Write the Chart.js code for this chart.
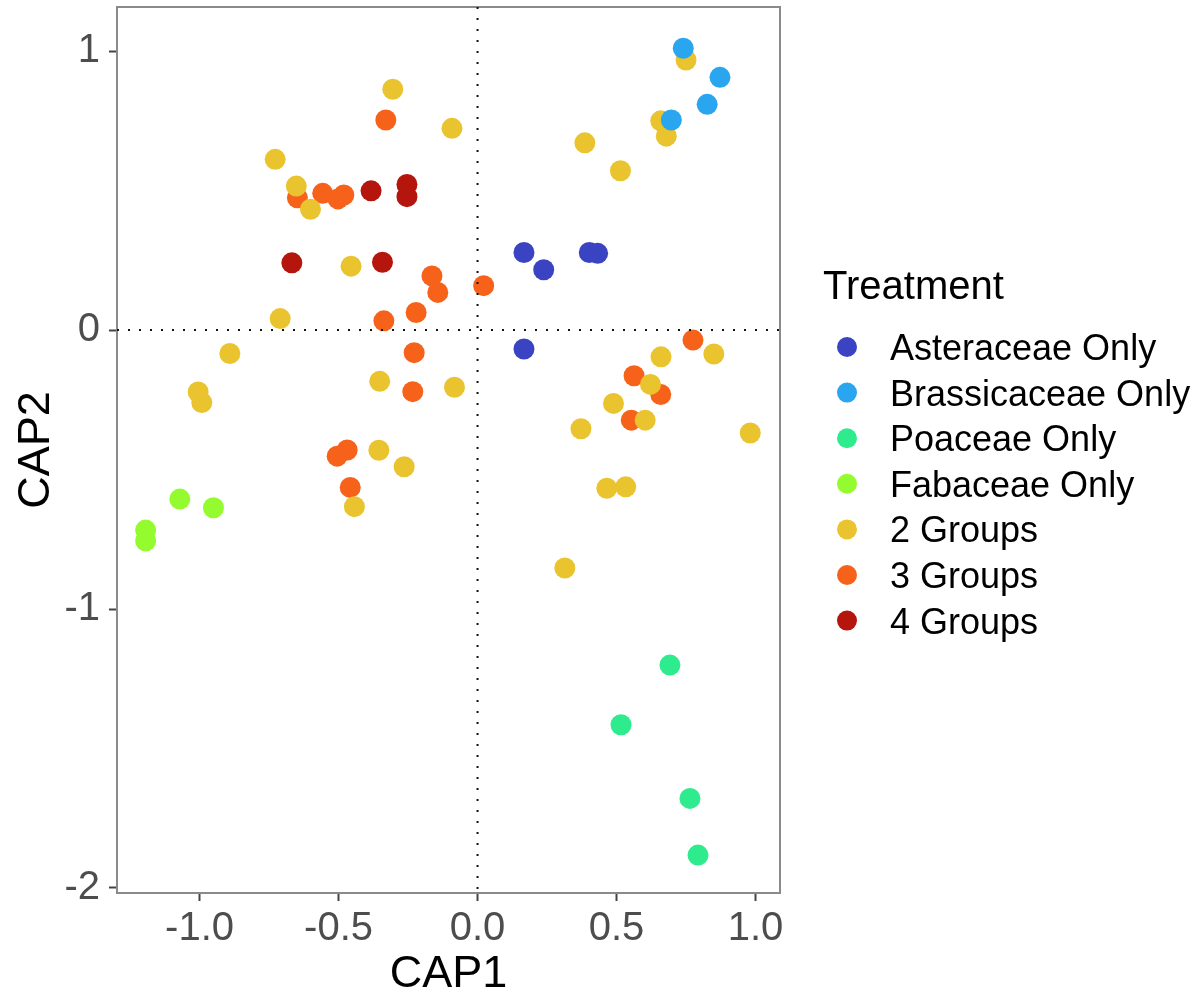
<!DOCTYPE html>
<html>
<head>
<meta charset="utf-8">
<script src="https://cdn.jsdelivr.net/npm/chart.js@4.4.1/dist/chart.umd.min.js"></script>
<style>
  body { margin: 0; background: #fff; }
  #wrap { width: 1202px; height: 993px; }
</style>
</head>
<body>
<div id="wrap"><canvas id="cap-chart" width="1202" height="993"></canvas></div>
<script>
// CAP ordination scores
const groups = ["Asteraceae Only", "Brassicaceae Only", "Poaceae Only", "Fabaceae Only", "2 Groups", "3 Groups", "4 Groups"];
const colors = ["#3a44c3", "#2aa5ef", "#2eec8e", "#94fb2e", "#eac42f", "#f7621b", "#b4150c"];

const asterX = [0.167, 0.238, 0.402, 0.432, 0.167];
const asterY = [0.278, 0.216, 0.278, 0.275, -0.068];
const brassX = [0.740, 0.872, 0.826, 0.697];
const brassY = [1.010, 0.906, 0.809, 0.753];
const poaX = [0.692, 0.516, 0.764, 0.793];
const poaY = [-1.201, -1.415, -1.679, -1.882];
const fabX = [-1.071, -0.950, -1.194, -1.194];
const fabY = [-0.606, -0.637, -0.717, -0.756];
const two_X = [-0.305, -0.092, -0.728, -0.652, -0.601, -0.455, -0.710, 0.750, 0.659, 0.679, 0.386, 0.514,
  -0.891, -1.005, -0.992, -0.352, -0.083, -0.355, -0.264, -0.443, 0.850, 0.660, 0.622, 0.489, 0.603,
  0.372, 0.981, 0.465, 0.533, 0.314];
const two_Y = [0.863, 0.723, 0.612, 0.516, 0.433, 0.229, 0.041, 0.968, 0.750, 0.695, 0.671, 0.571,
  -0.084, -0.222, -0.260, -0.184, -0.205, -0.431, -0.490, -0.633, -0.086, -0.096, -0.195, -0.263, -0.323,
  -0.354, -0.369, -0.567, -0.562, -0.853];
const three_X = [-0.330, -0.648, -0.557, -0.502, -0.481, -0.164, -0.143, 0.022, -0.221, -0.337, -0.228,
  -0.233, -0.469, -0.505, -0.458, 0.775, 0.563, 0.659, 0.553];
const three_Y = [0.753, 0.474, 0.490, 0.470, 0.484, 0.194, 0.135, 0.159, 0.063, 0.033, -0.081,
  -0.221, -0.430, -0.452, -0.564, -0.036, -0.164, -0.231, -0.323];
const four_X = [-0.383, -0.254, -0.254, -0.668, -0.342];
const four_Y = [0.499, 0.522, 0.478, 0.241, 0.243];

const xTicks = [-1, -0.5, 0, 0.5, 1];
const yTicks = [-2, -1, 0, 1];

const seriesX = [asterX, brassX, poaX, fabX, two_X, three_X, four_X];
const seriesY = [asterY, brassY, poaY, fabY, two_Y, three_Y, four_Y];

const FONT = "'Liberation Sans', Arial, Helvetica, sans-serif";

const datasets = groups.map((g, i) => ({
  label: g,
  data: seriesX[i].map((x, j) => ({ x: x, y: seriesY[i][j] })),
  backgroundColor: colors[i],
  borderWidth: 0,
  pointRadius: 10.5,
  pointHoverRadius: 10.5
}));

// panel frame and dotted zero lines
const panelPlugin = {
  id: "panel",
  beforeDatasetsDraw(chart) {
    const { ctx, chartArea: a } = chart;
    ctx.save();
    ctx.strokeStyle = "#8a8a8a";
    ctx.lineWidth = 2;
    ctx.strokeRect(a.left, a.top, a.right - a.left, a.bottom - a.top);
    ctx.restore();
  },
  afterDatasetsDraw(chart) {
    const { ctx, chartArea: a, scales } = chart;
    const x0 = scales.x.getPixelForValue(0);
    const y0 = scales.y.getPixelForValue(0);
    ctx.save();
    ctx.strokeStyle = "#111";
    ctx.lineWidth = 2;
    ctx.setLineDash([2, 9]);
    ctx.beginPath();
    ctx.moveTo(x0, a.top);
    ctx.lineTo(x0, a.bottom);
    ctx.moveTo(a.left, y0);
    ctx.lineTo(a.right, y0);
    ctx.stroke();
    ctx.restore();
  }
};

// ggplot-style legend on the right
const legendPlugin = {
  id: "treatmentLegend",
  afterDraw(chart) {
    const ctx = chart.ctx;
    ctx.save();
    ctx.fillStyle = "#000";
    ctx.textAlign = "left";
    ctx.textBaseline = "alphabetic";
    ctx.font = "40px " + FONT;
    ctx.fillText("Treatment", 823, 299);
    ctx.font = "36px " + FONT;
    groups.forEach((g, i) => {
      const cy = 347 + i * 45.6;
      ctx.beginPath();
      ctx.arc(847, cy, 10, 0, Math.PI * 2);
      ctx.fillStyle = colors[i];
      ctx.fill();
      ctx.fillStyle = "#000";
      ctx.fillText(g, 890, cy + 13);
    });
    ctx.restore();
  }
};

new Chart(document.getElementById("cap-chart"), {
  type: "scatter",
  data: { datasets: datasets },
  plugins: [panelPlugin, legendPlugin],
  options: {
    responsive: false,
    animation: false,
    layout: { autoPadding: false, padding: { left: 0, right: 422, top: 7, bottom: 0 } },
    plugins: { legend: { display: false }, tooltip: { enabled: false } },
    scales: {
      x: {
        type: "linear",
        min: -1.297,
        max: 1.088,
        afterBuildTicks: s => { s.ticks = xTicks.map(v => ({ value: v })); },
        afterFit: s => { s.height = 100; s.paddingLeft = 0; s.paddingRight = 0; },
        ticks: {
          callback: v => Number(v).toFixed(1),
          font: { size: 40, family: FONT },
          color: "#4d4d4d",
          padding: 4,
          maxRotation: 0,
          autoSkip: false
        },
        grid: { drawOnChartArea: false, drawTicks: true, tickLength: 8, tickColor: "#444", tickWidth: 2 },
        border: { display: false },
        title: {
          display: true,
          text: "CAP1",
          color: "#000",
          font: { size: 45, family: FONT, lineHeight: 0.8 },
          padding: { top: 1, bottom: 0 }
        }
      },
      y: {
        type: "linear",
        min: -2.018,
        max: 1.158,
        afterBuildTicks: s => { s.ticks = yTicks.map(v => ({ value: v })); },
        afterFit: s => { s.width = 117; s.paddingTop = 0; s.paddingBottom = 0; },
        ticks: {
          callback: v => String(v),
          font: { size: 40, family: FONT },
          color: "#4d4d4d",
          padding: 9,
          autoSkip: false
        },
        grid: { drawOnChartArea: false, drawTicks: true, tickLength: 8, tickColor: "#444", tickWidth: 2 },
        border: { display: false },
        title: {
          display: true,
          text: "CAP2",
          color: "#000",
          font: { size: 45, family: FONT, lineHeight: 0.8 },
          padding: { top: 19, bottom: 0 }
        }
      }
    }
  }
});
</script>
</body>
</html>
